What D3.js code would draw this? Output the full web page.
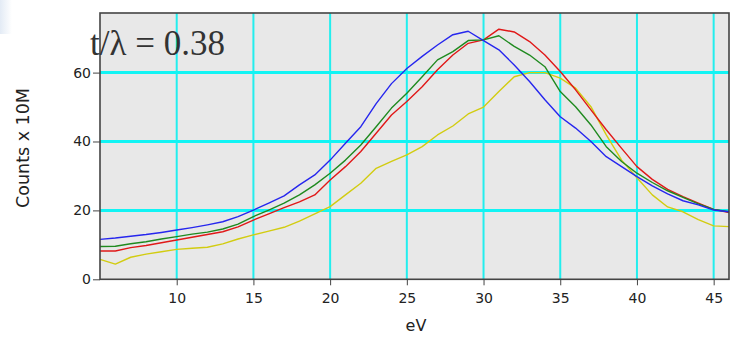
<!DOCTYPE html>
<html>
<head>
<meta charset="utf-8">
<script src="https://cdn.jsdelivr.net/npm/d3@7"></script>
<style>
	body { margin: 0; background: #fff; }
	svg { display: block; }
	.tick text { font-family: "DejaVu Sans", Verdana, sans-serif; font-size: 14px; fill: #222; }
</style>
</head>
<body>
<svg id="chart" width="731" height="339"></svg>
<script>
// energy loss axis (eV), one sample per eV
const ev = d3.range(5, 47);

const blue = [11.6, 12.0, 12.5, 13.0, 13.6, 14.3, 15.0, 15.8, 16.7, 18.2,
	20.1, 22.1, 24.2, 27.4, 30.3, 34.6, 39.5, 44.3, 51.0, 56.8,
	61.2, 64.7, 68.0, 71.0, 72.0, 69.3, 66.6, 62.2, 57.4, 52.1,
	47.2, 43.9, 40.0, 35.6, 32.7, 29.8, 27.1, 24.8, 22.8, 21.6,
	20.1, 19.6];
const green = [9.5, 9.6, 10.3, 10.9, 11.7, 12.4, 13.1, 13.7, 14.6, 16.0,
	18.2, 20.1, 22.1, 24.5, 27.4, 30.8, 34.6, 39.0, 44.3, 49.7,
	54.0, 58.8, 63.7, 66.1, 69.3, 69.5, 70.7, 67.6, 65.1, 61.7,
	54.5, 50.1, 44.8, 38.5, 34.2, 30.8, 28.1, 25.7, 23.8, 21.9,
	20.3, 19.6];
const red = [8.2, 8.2, 9.2, 9.8, 10.6, 11.4, 12.2, 13.0, 13.8, 15.2,
	17.2, 19.0, 20.8, 22.5, 24.5, 28.8, 32.7, 37.1, 42.4, 47.7,
	51.6, 55.9, 60.8, 65.1, 68.5, 69.5, 72.6, 71.8, 69.0, 65.1,
	60.3, 55.0, 49.2, 43.4, 38.0, 32.7, 29.0, 26.1, 24.0, 22.1,
	20.3, 19.4];
const yellow = [5.8, 4.4, 6.4, 7.3, 8.0, 8.7, 9.0, 9.3, 10.3, 11.7,
	12.9, 14.0, 15.1, 16.9, 19.0, 21.1, 24.5, 27.9, 32.2, 34.2,
	36.1, 38.5, 41.9, 44.5, 48.0, 50.0, 54.5, 58.8, 60.0, 60.0,
	58.4, 55.5, 50.1, 41.9, 34.6, 29.5, 24.5, 21.0, 19.6, 17.3,
	15.5, 15.3];

const seriesColours = ['#d2cc10', '#e01818', '#1f8a1f', '#2626ee'];
const xTicks = [10, 15, 20, 25, 30, 35, 40, 45];
const yTicks = [0, 20, 40, 60];

const margin = { left: 100, right: 2, top: 13, bottom: 60 };
const width = 731, height = 339;

const svg = d3.select('#chart');

const x = d3.scaleLinear().domain([5, 46]).range([margin.left, width - margin.right]);
const y = d3.scaleLinear().domain([0, 77.3]).range([279.3, margin.top]);

// faint window-chrome shading in the top-left corner
const grad = svg.append('defs').append('linearGradient').attr('id', 'corner').attr('x1', 0).attr('x2', 1);
grad.append('stop').attr('offset', 0).attr('stop-color', '#e3ebf5');
grad.append('stop').attr('offset', 1).attr('stop-color', '#ffffff');
svg.append('rect').attr('x', 0).attr('y', 0).attr('width', 12).attr('height', 34).attr('fill', 'url(#corner)');

// plot background
svg.append('rect')
	.attr('x', x(5)).attr('y', y(77.3))
	.attr('width', x(46) - x(5)).attr('height', y(0) - y(77.3))
	.attr('fill', '#e8e8e8');

// grid
svg.append('g').selectAll('line')
	.data(xTicks).enter().append('line')
	.attr('x1', d => x(d)).attr('x2', d => x(d))
	.attr('y1', y(77.3)).attr('y2', y(0))
	.attr('stroke', '#22eeee').attr('stroke-width', 2);

svg.append('g').selectAll('line')
	.data(yTicks.slice(1)).enter().append('line')
	.attr('x1', x(5)).attr('x2', x(46))
	.attr('y1', d => y(d)).attr('y2', d => y(d))
	.attr('stroke', '#11f4f4').attr('stroke-width', 3);

// curves
const line = d3.line().x((d, i) => x(ev[i])).y(d => y(d));

svg.append('g').selectAll('path')
	.data([yellow, red, green, blue]).enter().append('path')
	.attr('d', line)
	.attr('fill', 'none')
	.attr('stroke', (d, i) => seriesColours[i])
	.attr('stroke-width', 1.4)
	.attr('stroke-linejoin', 'round');

// frame
svg.append('rect')
	.attr('x', x(5)).attr('y', y(77.3))
	.attr('width', x(46) - x(5)).attr('height', y(0) - y(77.3))
	.attr('fill', 'none').attr('stroke', '#444').attr('stroke-width', 1.6);

// axes
const xAxis = svg.append('g')
	.attr('transform', 'translate(0,' + y(0) + ')')
	.call(d3.axisBottom(x).tickValues(xTicks).tickSize(6).tickPadding(8));

const yAxis = svg.append('g')
	.attr('transform', 'translate(' + x(5) + ',0)')
	.call(d3.axisLeft(y).tickValues(yTicks).tickSize(7).tickPadding(2));

xAxis.select('.domain').remove();
yAxis.select('.domain').remove();
svg.selectAll('.tick line').attr('stroke', '#444');

// labels
svg.append('text')
	.attr('x', 416).attr('y', 331)
	.attr('text-anchor', 'middle')
	.style('font-family', '"DejaVu Sans", Verdana, sans-serif')
	.style('font-size', '16px').attr('fill', '#222')
	.text('eV');

svg.append('text')
	.attr('transform', 'translate(29,148) rotate(-90)')
	.attr('text-anchor', 'middle')
	.style('font-family', '"DejaVu Sans", Verdana, sans-serif')
	.style('font-size', '17.5px').attr('fill', '#222')
	.text('Counts x 10M');

svg.append('text')
	.attr('x', 90).attr('y', 55)
	.style('font-family', '"Liberation Serif", "Times New Roman", serif')
	.style('font-size', '35px').attr('fill', '#333')
	.text('t/λ = 0.38');
</script>
</body>
</html>
